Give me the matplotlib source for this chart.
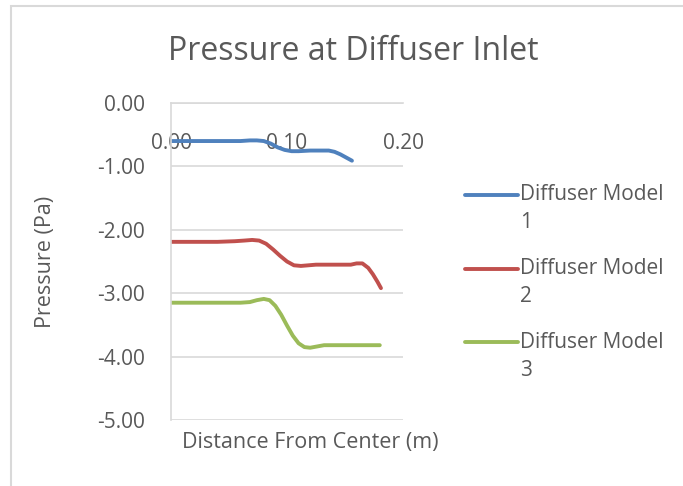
import matplotlib
matplotlib.use('Agg')
import matplotlib.pyplot as plt
from matplotlib.lines import Line2D
from matplotlib.patches import Rectangle

plt.rcParams['font.family'] = ['Open Sans', 'DejaVu Sans']

# values
dist_1 = [0.00, 0.02, 0.04, 0.06, 0.068, 0.074, 0.080, 0.086, 0.092, 0.098, 0.104, 0.110, 0.120, 0.130, 0.136, 0.141, 0.146, 0.151, 0.156]
pres_1 = [-0.60, -0.60, -0.60, -0.60, -0.59, -0.59, -0.60, -0.64, -0.70, -0.74, -0.76, -0.76, -0.75, -0.75, -0.75, -0.77, -0.81, -0.86, -0.91]

dist_2 = [0.00, 0.02, 0.04, 0.055, 0.063, 0.070, 0.076, 0.082, 0.088, 0.094, 0.100, 0.106, 0.112, 0.125, 0.140, 0.155, 0.160, 0.165, 0.170, 0.174, 0.178, 0.181]
pres_2 = [-2.19, -2.19, -2.19, -2.18, -2.17, -2.16, -2.17, -2.22, -2.31, -2.41, -2.50, -2.56, -2.57, -2.55, -2.55, -2.55, -2.53, -2.53, -2.60, -2.70, -2.82, -2.92]

dist_3 = [0.00, 0.02, 0.04, 0.06, 0.068, 0.074, 0.080, 0.085, 0.090, 0.095, 0.100, 0.105, 0.110, 0.115, 0.120, 0.126, 0.132, 0.145, 0.160, 0.180]
pres_3 = [-3.15, -3.15, -3.15, -3.15, -3.14, -3.11, -3.09, -3.11, -3.20, -3.34, -3.51, -3.67, -3.79, -3.85, -3.86, -3.84, -3.82, -3.82, -3.82, -3.82]

series = [
    ('Diffuser Model', '1', dist_1, pres_1, '#4f81bd'),
    ('Diffuser Model', '2', dist_2, pres_2, '#c0504d'),
    ('Diffuser Model', '3', dist_3, pres_3, '#9bbb59'),
]

W, H = 683, 486
fig = plt.figure(figsize=(W / 100, H / 100), dpi=100)
ax = fig.add_axes([171 / W, 1 - 420 / H, (403 - 171) / W, (420 - 103) / H])

grey = '#595959'
grid = '#d9d9d9'

for name, num, x, y, color in series:
    ax.plot(x, y, color=color, lw=2.8, solid_capstyle='round', solid_joinstyle='round')

ax.set_xlim(0, 0.20)
ax.set_ylim(-5, 0)
ax.set_yticks([0, -1, -2, -3, -4, -5])
ax.set_yticklabels([f'{v:.2f}' for v in [0, -1, -2, -3, -4, -5]])
ax.set_xticks([0, 0.1, 0.2])
ax.set_xticklabels(['0.00', '0.10', '0.20'])
ax.xaxis.set_ticks_position('top')
ax.tick_params(axis='x', length=0, pad=-37, labelsize=15, colors=grey)
ax.tick_params(axis='y', length=0, pad=18.7, labelsize=15, colors=grey)
ax.yaxis.grid(True, color=grid, lw=1.2)
ax.set_axisbelow(True)
for s in ['right', 'bottom']:
    ax.spines[s].set_visible(False)
ax.spines['left'].set_color(grid)
ax.spines['left'].set_linewidth(1.2)
ax.spines['top'].set_color(grid)
ax.spines['top'].set_linewidth(1.2)

fig.text(353 / W, 1 - 51 / H, 'Pressure at Diffuser Inlet', ha='center', va='center',
         fontsize=23, color=grey)
fig.text(45 / W, 1 - 262 / H, 'Pressure (Pa)', ha='center', va='center', rotation=90,
         fontsize=15.5, color=grey)
fig.text(310 / W, 1 - 442 / H, 'Distance From Center (m)', ha='center', va='center',
         fontsize=15.5, color=grey)

# legend drawn by hand so the line sits next to the first text line
for i, (name, num, x, y, color) in enumerate(series):
    ly = 195 + i * 73.5
    fig.add_artist(Line2D([465 / W, 518 / W], [1 - ly / H, 1 - ly / H], color=color, lw=2.8,
                          solid_capstyle='round'))
    fig.text(520 / W, 1 - ly / H, name, ha='left', va='center', fontsize=15, color=grey)
    fig.text(520 / W, 1 - (ly + 28) / H, num, ha='left', va='center', fontsize=15, color=grey)

fig.add_artist(Rectangle((11 / W, -0.1), 1.2, 1 - 6 / H + 0.1, transform=fig.transFigure,
                         fill=False, edgecolor=grid, lw=1.5))

fig.savefig('out.png', dpi=100)
